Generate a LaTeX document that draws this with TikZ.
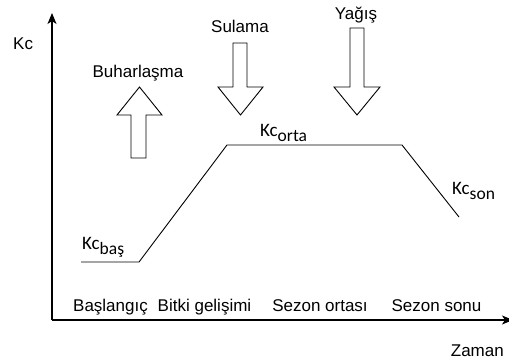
\documentclass[tikz,border=0pt]{standalone}
\usepackage{fontspec}
\usepackage{tikz}
\usetikzlibrary{positioning, arrows.meta}

\setmainfont{Liberation Sans}
\newfontfamily\calibri{Carlito}

% crop coefficient label, Kc with a lowered stage name
\newcommand{\kcsub}[1]{{\calibri\fontsize{19}{21}\selectfont Kc\raisebox{-5pt}{\fontsize{17.5}{19}\selectfont #1}}}

\tikzset{
  axis/.style={line width=1.3pt, -{Stealth[length=11pt, width=9pt, inset=3pt]}},
  curve/.style={line width=0.9pt},
  flow/.style={line width=0.9pt, fill=white, line join=miter},
  lbl/.style={font=\fontsize{17}{20}\selectfont, inner sep=0pt, anchor=base},
  kclbl/.style={inner sep=0pt, anchor=base west}
}

\begin{document}
\begin{tikzpicture}[x=1pt, y=-1pt]

  \useasboundingbox (0,0) rectangle (509,363);

  % Axes
  \coordinate (origin) at (52,320);
  \coordinate (ytop) at (52,13);
  \coordinate (xend) at (513,320);
  \draw[axis] (origin) -- (ytop);
  \draw[axis] (origin) -- (xend);

  \node[lbl, anchor=base west] (kc) at (13,50) {Kc};
  \node[lbl, anchor=base east] (zaman) at (504,357) {Zaman};

  % Kc curve over the season
  \coordinate (p0) at (81,262);
  \coordinate (p1) at (139,262);
  \coordinate (p2) at (227,145);
  \coordinate (p3) at (402,145);
  \coordinate (p4) at (459,217);
  \draw[curve] (p0) -- (p1) -- (p2) -- (p3) -- (p4);

  \node[kclbl] (kcbas) at (82,250) {\kcsub{baş}};
  \node[kclbl] (kcorta) at (260,137) {\kcsub{orta}};
  \node[kclbl] (kcson) at (452,195) {\kcsub{son}};

  % Stages
  \node[lbl] (s1) at (110.5,312) {Başlangıç};
  \node[lbl] (s2) at (204.5,312) {Bitki gelişimi};
  \node[lbl] (s3) at (320,312) {Sezon ortası};
  \node[lbl] (s4) at (436.5,312) {Sezon sonu};

  % Water flows
  \draw[flow] (131,158) -- (131,115) -- (117,115) -- (139.5,87) -- (162,115) -- (146,115) -- (146,158) -- cycle;
  \node[lbl] (buhar) at (138,78) {Buharlaşma};

  \draw[flow] (233,43) -- (233,87) -- (218,87) -- (240.5,115) -- (263,87) -- (247,87) -- (247,43) -- cycle;
  \node[lbl] (sulama) at (240,33) {Sulama};

  \draw[flow] (350,28) -- (350,87) -- (334,87) -- (357,115) -- (380,87) -- (364,87) -- (364,28) -- cycle;
  \node[lbl] (yagis) at (356,20) {Yağış};

\end{tikzpicture}
\end{document}
